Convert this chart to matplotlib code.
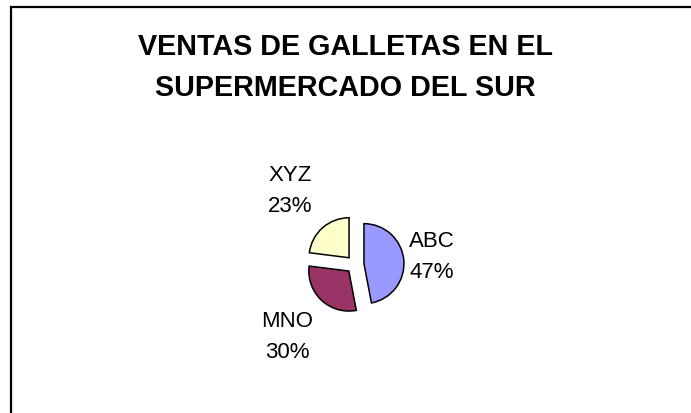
import numpy as np
import matplotlib
matplotlib.use('Agg')
import matplotlib.pyplot as plt
from matplotlib.patches import Rectangle

plt.rcParams['font.family'] = ['Liberation Sans', 'DejaVu Sans']

# data
marcas = ['ABC', 'MNO', 'XYZ']
ventas = [47, 30, 23]
colores = ['#9999FF', '#993366', '#FFFFCC']

W, H = 691, 413
fig = plt.figure(figsize=(W / 100, H / 100), dpi=100)

# chart frame (runs off the right and bottom of the image)
fig.patches.append(Rectangle((10.5 / W, -0.5), 2, (H - 7) / H + 0.5,
                             transform=fig.transFigure, fill=False,
                             edgecolor='black', linewidth=1.6))

fig.text(345 / W, 1 - 67.5 / H, 'VENTAS DE GALLETAS EN EL\nSUPERMERCADO DEL SUR',
         ha='center', va='center', fontsize=20.7, fontweight='bold',
         linespacing=1.6)

# pie axes: 1 data unit = 40 px, centred on the pie
cx, cy, r = 355, H - 264.5, 40
ax = fig.add_axes([(cx - 4 * r) / W, (cy - 4 * r) / H, 8 * r / W, 8 * r / H])

expl = 0.225
wedges, _ = ax.pie(ventas, colors=colores, startangle=90, counterclock=False,
                   explode=[expl] * len(ventas), radius=1,
                   wedgeprops=dict(edgecolor='black', linewidth=1.1))
ax.set_xlim(-4, 4)
ax.set_ylim(-4, 4)
ax.axis('off')

# label distance from centre, per slice
dist = [1.93, 2.48, 2.46]
for w, m, v, d in zip(wedges, marcas, ventas, dist):
    ang = np.deg2rad((w.theta1 + w.theta2) / 2)
    ax.text(d * np.cos(ang), d * np.sin(ang), f'{m}\n{v}%',
            ha='center', va='center', fontsize=16, linespacing=1.62)

fig.savefig('out.png', dpi=100)
